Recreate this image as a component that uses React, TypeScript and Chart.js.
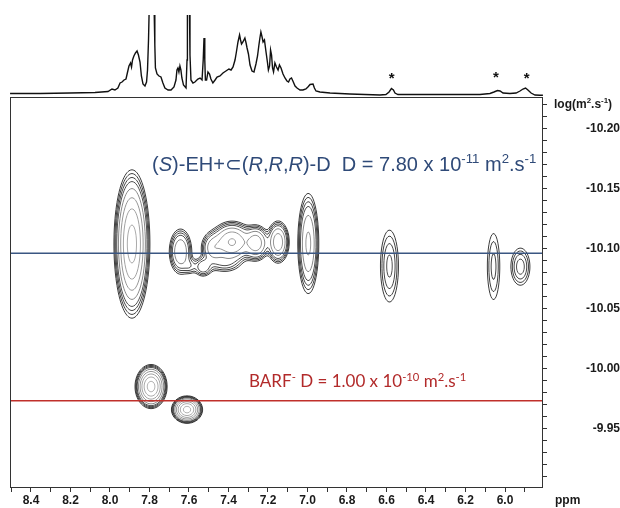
import React, { useEffect, useRef } from 'react';
import { Chart, registerables } from 'chart.js';
Chart.register(...registerables);

// ---- 1D projection spectrum (ppm, intensity above baseline) ----
const specPpm = [8.506, 8.354, 8.203, 8.076, 8.010, 7.990, 7.975, 7.960, 7.949, 7.939, 7.929, 7.919, 7.911, 7.904, 7.896, 7.891, 7.886, 7.879, 7.871, 7.863, 7.856, 7.848, 7.841, 7.833, 7.823, 7.815, 7.810, 7.805, 7.801, 7.777, 7.773, 7.770, 7.762, 7.752, 7.742, 7.732, 7.722, 7.706, 7.691, 7.676, 7.666, 7.661, 7.656, 7.651, 7.646, 7.641, 7.636, 7.628, 7.615, 7.610, 7.608, 7.598, 7.595, 7.590, 7.580, 7.570, 7.555, 7.544, 7.534, 7.528, 7.524, 7.520, 7.517, 7.511, 7.504, 7.496, 7.489, 7.479, 7.468, 7.458, 7.443, 7.428, 7.413, 7.398, 7.387, 7.377, 7.367, 7.360, 7.352, 7.344, 7.339, 7.334, 7.327, 7.322, 7.317, 7.311, 7.306, 7.299, 7.291, 7.281, 7.271, 7.261, 7.253, 7.246, 7.241, 7.236, 7.230, 7.225, 7.218, 7.210, 7.203, 7.198, 7.192, 7.187, 7.182, 7.177, 7.172, 7.165, 7.157, 7.149, 7.142, 7.134, 7.124, 7.114, 7.104, 7.096, 7.089, 7.081, 7.074, 7.063, 7.053, 7.038, 7.023, 7.008, 6.998, 6.987, 6.972, 6.965, 6.957, 6.937, 6.886, 6.785, 6.633, 6.603, 6.587, 6.575, 6.565, 6.557, 6.542, 6.430, 6.279, 6.127, 6.076, 6.056, 6.038, 6.025, 6.010, 5.975, 5.944, 5.924, 5.909, 5.896, 5.884, 5.868, 5.848, 5.823, 5.808];
const specInt = [0.5, 0.5, 1, 1.5, 2.5, 5, 4, 6, 11, 12, 14, 15, 22, 28, 31, 27, 34, 38, 41, 43, 39, 32, 18, 10, 8, 12, 24, 54, 90, 90, 49, 26, 20, 18, 17, 11, 6, 4, 4, 7, 14, 24, 26, 22, 28, 24, 16, 9, 6, 34, 90, 90, 39, 14, 11, 12, 15, 16, 14, 34, 56, 34, 14, 14, 22, 20, 15, 11, 14, 17, 18, 21, 23, 25, 24, 27, 34, 42, 52, 59, 54, 50, 52, 54, 56, 51, 46, 40, 29, 23, 22, 30, 38, 49, 56, 62, 57, 52, 54, 42, 32, 24, 28, 44, 39, 26, 22, 31, 27, 24, 29, 26, 20, 16, 13, 12, 15, 16, 13, 8, 6, 4, 4, 5, 7, 9.5, 10, 6, 3, 2, 1, 0, -1, -0.5, 2, 5.5, 4, 1, -0.5, -0.5, -0.5, -0.5, 0.5, 2, 3.5, 3, 1, 0.5, 1, 3, 5, 6, 4, 1, -1, -1.3, -1.3];

// asterisk marks on the projection
const starPpm = [6.574, 6.046, 5.890];
const starInt = [18.5, 19, 18.5];

// ---- 2D DOSY cross peaks ----
const peakPpm = [7.889, 6.996, 6.585, 6.058, 5.922, 7.792, 7.610, 7.643, 7.595, 7.529, 7.420, 7.479, 7.382, 7.261, 7.149];
const peakLogD = [-10.1038, -10.1042, -10.0854, -10.0850, -10.0849, -9.9850, -9.9658, -10.0975, -10.0854, -10.0846, -10.0880, -10.1004, -10.1054, -10.1046, -10.1054];
const peakSdPpm = [0.0349, 0.0253, 0.0307, 0.0249, 0.0311, 0.0290, 0.0281, 0.0278, 0.0203, 0.0253, 0.0500, 0.0304, 0.0470, 0.0304, 0.0253];
const peakSdLogD = [0.0237, 0.0199, 0.0202, 0.0219, 0.0100, 0.00656, 0.00408, 0.0092, 0.0042, 0.0045, 0.0050, 0.0067, 0.0075, 0.0067, 0.0079];
const peakAmp = [30, 9, 3, 2.2, 3.3, 50, 50, 8, 2, 4, 2.5, 6, 15, 12, 12];
const contourLevels = [1, 1.4, 1.95, 2.7, 4.5, 8, 14, 24, 40];
const contourColors = ['#262626', '#2a2a2a', '#303030', '#3c3c3c', '#7a7a7a', '#8a8a8a', '#979797', '#a2a2a2', '#ababab'];

// ---- reference lines (log D) ----
const blueLineLogD = -10.096;
const redLineLogD = -9.9732;

// ---- axes ----
const xMin = 5.8076;
const xMax = 8.5063;
const yMin = -10.2263;
const yMax = -9.9013;
const xTickValues = [8.5, 8.4, 8.3, 8.2, 8.1, 8.0, 7.9, 7.8, 7.7, 7.6, 7.5, 7.4, 7.3, 7.2, 7.1, 7.0, 6.9, 6.8, 6.7, 6.6, 6.5, 6.4, 6.3, 6.2, 6.1, 6.0, 5.9];
const xLabelValues = [8.4, 8.2, 8.0, 7.8, 7.6, 7.4, 7.2, 7.0, 6.8, 6.6, 6.4, 6.2, 6.0];
const yTickValues = [-10.22, -10.21, -10.20, -10.19, -10.18, -10.17, -10.16, -10.15, -10.14, -10.13, -10.12, -10.11, -10.10, -10.09, -10.08, -10.07, -10.06, -10.05, -10.04, -10.03, -10.02, -10.01, -10.00, -9.99, -9.98, -9.97, -9.96, -9.95, -9.94, -9.93, -9.92, -9.91];
const yLabelValues = [-10.20, -10.15, -10.10, -10.05, -10.00, -9.95];

// ---- annotation texts ----
const blueText = [
  { t: '(' }, { t: 'S', i: true }, { t: ')-EH+\u2282(' }, { t: 'R', i: true }, { t: ',' }, { t: 'R', i: true }, { t: ',' }, { t: 'R', i: true },
  { t: ')-D  D = 7.80 x 10' }, { t: '-11', s: true }, { t: ' m' }, { t: '2', s: true }, { t: '.s' }, { t: '-1', s: true },
];
const redText = [
  { t: 'BARF' }, { t: '-', s: true }, { t: ' D = 1.00 x 10' }, { t: '-10', s: true }, { t: ' m' }, { t: '2', s: true }, { t: '.s' }, { t: '-1', s: true },
];
const textPpm = [7.787, 7.296];
const textLogD = [-10.1650, -9.9846];

type Run = { t: string; i?: boolean; s?: boolean };

function drawRuns(ctx: CanvasRenderingContext2D, x: number, y: number, runs: Run[], size: number, family: string, weight: string, color: string) {
  let cx = x;
  ctx.fillStyle = color;
  ctx.textAlign = 'left';
  ctx.textBaseline = 'alphabetic';
  for (const r of runs) {
    const fs = r.s ? size * 0.66 : size;
    ctx.font = `${r.i ? 'italic ' : ''}${weight} ${fs}px ${family}`;
    const dy = r.s ? -size * 0.38 : 0;
    ctx.fillText(r.t, cx, y + dy);
    cx += ctx.measureText(r.t).width;
  }
}

const contourPlugin = {
  id: 'contours',
  beforeDatasetsDraw(chart: any) {
    const { ctx, chartArea: a } = chart;
    const xs = chart.scales.x;
    const ysc = chart.scales.y;
    const nx = Math.round(a.right - a.left);
    const ny = Math.round(a.bottom - a.top);
    const W = nx + 1;
    const xv = new Float64Array(nx + 1);
    const yv = new Float64Array(ny + 1);
    for (let i = 0; i <= nx; i++) xv[i] = xs.getValueForPixel(a.left + i);
    for (let j = 0; j <= ny; j++) yv[j] = ysc.getValueForPixel(a.top + j);
    const f = new Float64Array((nx + 1) * (ny + 1));
    const gx = new Float64Array(nx + 1);
    const gy = new Float64Array(ny + 1);
    for (let p = 0; p < peakPpm.length; p++) {
      for (let i = 0; i <= nx; i++) { const d = (xv[i] - peakPpm[p]) / peakSdPpm[p]; gx[i] = Math.exp(-0.5 * d * d); }
      for (let j = 0; j <= ny; j++) { const d = (yv[j] - peakLogD[p]) / peakSdLogD[p]; gy[j] = Math.exp(-0.5 * d * d); }
      for (let j = 0; j <= ny; j++) {
        if (gy[j] < 1e-5) continue;
        const row = j * W;
        const ay = peakAmp[p] * gy[j];
        for (let i = 0; i <= nx; i++) {
          if (gx[i] < 1e-5) continue;
          f[row + i] += ay * gx[i];
        }
      }
    }
    ctx.save();
    ctx.beginPath();
    ctx.rect(a.left, a.top, a.right - a.left, a.bottom - a.top);
    ctx.clip();
    ctx.lineWidth = 0.9;
    ctx.lineJoin = 'round';
    for (let k = 0; k < contourLevels.length; k++) {
      const L = contourLevels[k];
      ctx.beginPath();
      for (let j = 0; j < ny; j++) {
        for (let i = 0; i < nx; i++) {
          const v0 = f[j * W + i], v1 = f[j * W + i + 1], v2 = f[(j + 1) * W + i + 1], v3 = f[(j + 1) * W + i];
          const b0 = v0 >= L, b1 = v1 >= L, b2 = v2 >= L, b3 = v3 >= L;
          if (b0 === b1 && b1 === b2 && b2 === b3) continue;
          const px = a.left + i, py = a.top + j;
          const pts: number[][] = [];
          let e0: number[] | null = null, e1: number[] | null = null, e2: number[] | null = null, e3: number[] | null = null;
          if (b0 !== b1) e0 = [px + (L - v0) / (v1 - v0), py];
          if (b1 !== b2) e1 = [px + 1, py + (L - v1) / (v2 - v1)];
          if (b2 !== b3) e2 = [px + 1 - (L - v2) / (v3 - v2), py + 1];
          if (b3 !== b0) e3 = [px, py + 1 - (L - v3) / (v0 - v3)];
          if (e0 && e1 && e2 && e3) {
            const c = (v0 + v1 + v2 + v3) / 4;
            if ((c >= L) === b0) { pts.push(e0, e1, e2, e3); }
            else { pts.push(e0, e3, e1, e2); }
          } else {
            for (const e of [e0, e1, e2, e3]) if (e) pts.push(e);
          }
          for (let q = 0; q + 1 < pts.length; q += 2) {
            ctx.moveTo(pts[q][0], pts[q][1]);
            ctx.lineTo(pts[q + 1][0], pts[q + 1][1]);
          }
        }
      }
      ctx.strokeStyle = contourColors[k];
      ctx.stroke();
    }
    ctx.restore();
  },
};

const overlayPlugin = {
  id: 'overlay',
  afterDatasetsDraw(chart: any) {
    const { ctx, chartArea: a } = chart;
    const xs = chart.scales.x;
    const ys = chart.scales.y;
    const sp = chart.scales.ys;
    ctx.save();
    // box
    ctx.strokeStyle = '#333';
    ctx.lineWidth = 1;
    ctx.strokeRect(Math.round(a.left) + 0.5, Math.round(a.top) + 0.5, Math.round(a.right - a.left) - 1, Math.round(a.bottom - a.top));
    // asterisks
    ctx.fillStyle = '#111';
    ctx.font = 'bold 15px "Liberation Sans"';
    ctx.textAlign = 'center';
    ctx.textBaseline = 'middle';
    for (let i = 0; i < starPpm.length; i++) {
      ctx.fillText('*', xs.getPixelForValue(starPpm[i]), sp.getPixelForValue(starInt[i]) + 3);
    }
    // annotations
    drawRuns(ctx, xs.getPixelForValue(textPpm[0]), ys.getPixelForValue(textLogD[0]), blueText, 20, '"Liberation Sans"', 'normal', '#2f4a78');
    drawRuns(ctx, xs.getPixelForValue(textPpm[1]), ys.getPixelForValue(textLogD[1]), redText, 17, 'Lato', 'normal', '#b22a2a');
    // axis titles
    const tx = a.right + 11;
    drawRuns(ctx, tx, a.top + 11, [{ t: 'log(m' }, { t: '2', s: true }, { t: '.s' }, { t: '-1', s: true }, { t: ')' }], 12, '"Liberation Sans"', 'bold', '#1a1a1a');
    drawRuns(ctx, tx + 1, a.bottom + 17, [{ t: 'ppm' }], 12, '"Liberation Sans"', 'bold', '#1a1a1a');
    ctx.restore();
  },
};

const near = (arr: number[], v: number) => arr.some((u) => Math.abs(u - v) < 1e-6);

export default function App() {
  const ref = useRef<HTMLCanvasElement>(null);
  useEffect(() => {
    if (!ref.current) return;
    const tickFont = { family: '"Liberation Sans"', size: 12, weight: 'bold' as const };
    const chart = new Chart(ref.current, {
      type: 'line',
      data: {
        datasets: [
          {
            data: specPpm.map((p, i) => ({ x: p, y: specInt[i] })),
            yAxisID: 'ys',
            borderColor: '#111',
            borderWidth: 1.4,
            pointRadius: 0,
            tension: 0,
            clip: { left: 0, top: 82, right: 0, bottom: 0 } as any,
          },
          {
            data: [{ x: xMax, y: blueLineLogD }, { x: xMin, y: blueLineLogD }],
            yAxisID: 'y',
            borderColor: '#3a5682',
            borderWidth: 1.5,
            pointRadius: 0,
          },
          {
            data: [{ x: xMax, y: redLineLogD }, { x: xMin, y: redLineLogD }],
            yAxisID: 'y',
            borderColor: '#c0302b',
            borderWidth: 1.5,
            pointRadius: 0,
          },
        ],
      },
      options: {
        animation: false,
        responsive: true,
        maintainAspectRatio: false,
        events: [],
        layout: { padding: { left: 10, top: 97, right: 0, bottom: 0 } },
        plugins: { legend: { display: false }, tooltip: { enabled: false } },
        scales: {
          x: {
            type: 'linear',
            position: 'bottom',
            reverse: true,
            min: xMin,
            max: xMax,
            border: { display: false },
            grid: { drawOnChartArea: false, drawTicks: true, tickLength: 5, color: '#333' },
            ticks: {
              autoSkip: false,
              maxRotation: 0,
              padding: 1,
              color: '#1a1a1a',
              font: tickFont,
              callback: (v: any) => (near(xLabelValues, Number(v)) ? Number(v).toFixed(1) : ''),
            },
            afterBuildTicks: (s: any) => { s.ticks = xTickValues.map((v) => ({ value: v })); },
            afterFit: (s: any) => { s.height = 21; },
          },
          y: {
            type: 'linear',
            position: 'right',
            reverse: true,
            min: yMin,
            max: yMax,
            border: { display: false },
            grid: { drawOnChartArea: false, drawTicks: true, tickLength: 4, color: '#333' },
            ticks: {
              autoSkip: false,
              crossAlign: 'far',
              padding: 10,
              color: '#1a1a1a',
              font: tickFont,
              callback: (v: any) => (near(yLabelValues, Number(v)) ? Number(v).toFixed(2) : ''),
            },
            afterBuildTicks: (s: any) => { s.ticks = yTickValues.map((v) => ({ value: v })); },
            afterFit: (s: any) => { s.width = 77; },
          },
          ys: {
            type: 'linear',
            display: false,
            min: -393,
            max: -3,
          },
        },
      },
      plugins: [contourPlugin, overlayPlugin],
    } as any);
    return () => chart.destroy();
  }, []);
  return (
    <div style={{ position: 'fixed', left: 0, top: 0, width: 620, height: 508, background: '#fff' }}>
      <canvas ref={ref} />
    </div>
  );
}
